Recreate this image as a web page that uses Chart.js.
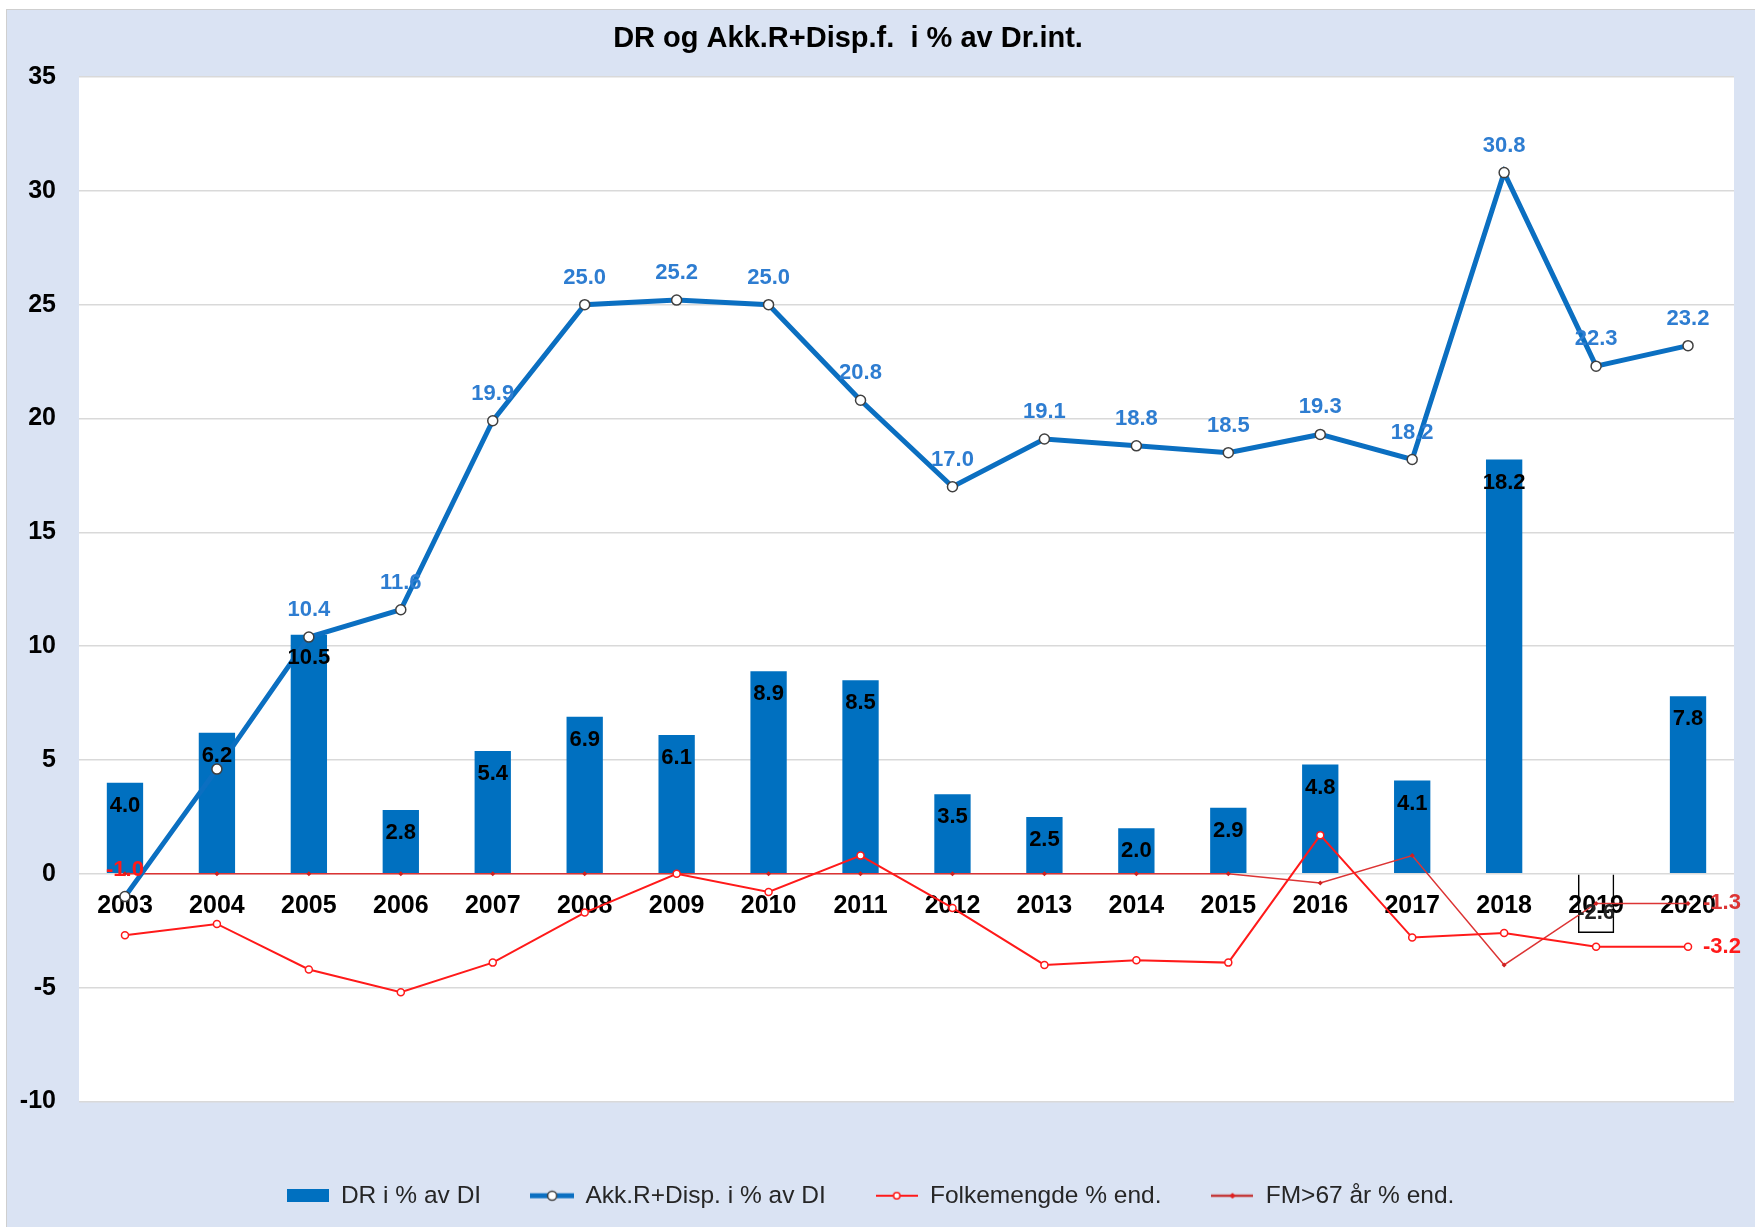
<!DOCTYPE html>
<html>
<head>
<meta charset="utf-8">
<script src="https://cdn.jsdelivr.net/npm/chart.js@4.4.0/dist/chart.umd.min.js"></script>
<style>
html,body{margin:0;padding:0;background:#ffffff;}
#wrap{position:absolute;left:6px;top:9px;width:1749px;height:1218px;background:#DAE3F3;border-top:1px solid #cfcfcf;border-left:1px solid #cfcfcf;}
canvas{display:block;}
</style>
</head>
<body>
<div id="wrap"><canvas id="c" width="1748" height="1217"></canvas></div>
<script>
// ---------- data ----------
const chartTitle = 'DR og Akk.R+Disp.f.  i % av Dr.int.';
const years = ['2003','2004','2005','2006','2007','2008','2009','2010','2011','2012','2013','2014','2015','2016','2017','2018','2019','2020'];
const drValues   = [4.0, 6.2, 10.5, 2.8, 5.4, 6.9, 6.1, 8.9, 8.5, 3.5, 2.5, 2.0, 2.9, 4.8, 4.1, 18.2, -2.6, 7.8];
const akkValues  = [-1.0, 4.6, 10.4, 11.6, 19.9, 25.0, 25.2, 25.0, 20.8, 17.0, 19.1, 18.8, 18.5, 19.3, 18.2, 30.8, 22.3, 23.2];
const folkValues = [-2.7, -2.2, -4.2, -5.2, -3.9, -1.7, 0.0, -0.8, 0.8, -1.5, -4.0, -3.8, -3.9, 1.7, -2.8, -2.6, -3.2, -3.2];
const fm67Values = [0.0, 0.0, 0.0, 0.0, 0.0, 0.0, 0.0, 0.0, 0.0, 0.0, 0.0, 0.0, 0.0, -0.4, 0.8, -4.0, -1.3, -1.3];
const seriesNames = ['DR i % av DI', 'Akk.R+Disp. i % av DI', 'Folkemengde % end.', 'FM>67 år % end.'];
const yMin = -10, yMax = 35, yStep = 5;
const akkLabelSkip = [1];          // label hidden behind bar label in the original
const folkLabelIdx = [17];         // only last point labelled
const fm67LabelIdx = [17];

// ---------- styles ----------
const F = "'Liberation Sans', Arial, sans-serif";
const BLUE = '#0070C0';
const LINEBLUE = '#0B6FC1';
const LBLBLUE = '#2E7DD1';
const RED = '#FF1A1A';
const RED2 = '#DC3434';
const LEGEND_TEXT = '#262626';

function icon(w, h, fn){ const c=document.createElement('canvas'); c.width=w; c.height=h; fn(c.getContext('2d'), w, h); return c; }
const legendIcons = [
  icon(42, 13, (g,w,h)=>{ g.fillStyle=BLUE; g.fillRect(0,0,w,h); }),
  icon(44, 14, (g,w,h)=>{ g.strokeStyle=LINEBLUE; g.lineWidth=5; g.beginPath(); g.moveTo(0,h/2); g.lineTo(w,h/2); g.stroke();
                         g.fillStyle='#fff'; g.strokeStyle='#404040'; g.lineWidth=1.5; g.beginPath(); g.arc(w/2,h/2,4.5,0,Math.PI*2); g.fill(); g.stroke(); }),
  icon(42, 10, (g,w,h)=>{ g.strokeStyle=RED; g.lineWidth=2; g.beginPath(); g.moveTo(0,h/2); g.lineTo(w,h/2); g.stroke();
                         g.fillStyle='#fff'; g.lineWidth=1.5; g.beginPath(); g.arc(w/2,h/2,3.2,0,Math.PI*2); g.fill(); g.stroke(); }),
  icon(42, 10, (g,w,h)=>{ g.strokeStyle='#C43A3A'; g.lineWidth=2.5; g.beginPath(); g.moveTo(0,h/2); g.lineTo(w,h/2); g.stroke();
                         g.fillStyle='#E02020'; g.beginPath(); g.moveTo(w/2,h/2-3); g.lineTo(w/2+3,h/2); g.lineTo(w/2,h/2+3); g.lineTo(w/2-3,h/2); g.closePath(); g.fill(); })
];

const bgPlugin = {
  id: 'bg',
  beforeDraw(chart){
    const {ctx, chartArea:a} = chart;
    ctx.save(); ctx.fillStyle = '#ffffff'; ctx.fillRect(a.left, a.top, a.right-a.left, a.bottom-a.top); ctx.restore();
  },
  afterDraw(chart){
    const ctx = chart.ctx;
    ctx.save();
    ctx.font = 'bold 29px ' + F; ctx.fillStyle = '#000'; ctx.textAlign = 'center'; ctx.textBaseline = 'middle';
    ctx.fillText(chartTitle, 841, 29);
    ctx.restore();
  }
};

const labelPlugin = {
  id: 'vlabels',
  afterDatasetsDraw(chart){
    const ctx = chart.ctx;
    ctx.save();
    ctx.font = 'bold 22px ' + F;
    ctx.textBaseline = 'middle';
    // bars
    chart.getDatasetMeta(0).data.forEach((el, i) => {
      const v = drValues[i];
      ctx.textAlign = 'center';
      ctx.fillStyle = v < 0 ? '#222' : '#000';
      const y = v >= 0 ? el.y + 23 : el.y - 20;
      ctx.fillText(v.toFixed(1), el.x, y);
    });
    // Akk line
    chart.getDatasetMeta(1).data.forEach((el, i) => {
      if (akkLabelSkip.includes(i)) return;
      const v = akkValues[i];
      ctx.textAlign = 'center';
      ctx.fillStyle = v < 0 ? RED : LBLBLUE;
      ctx.fillText(v.toFixed(1), el.x, el.y - 27);
    });
    // Folkemengde / FM>67 end labels
    ctx.textAlign = 'left';
    ctx.fillStyle = RED;
    folkLabelIdx.forEach(i => { const el = chart.getDatasetMeta(2).data[i]; ctx.fillText(folkValues[i].toFixed(1), el.x + 15, el.y); });
    ctx.fillStyle = RED2;
    fm67LabelIdx.forEach(i => { const el = chart.getDatasetMeta(3).data[i]; ctx.fillText(fm67Values[i].toFixed(1), el.x + 15, el.y); });
    ctx.restore();
  }
};

new Chart(document.getElementById('c'), {
  type: 'bar',
  data: {
    labels: years,
    datasets: [
      { type:'bar', label: seriesNames[0], data: drValues,
        backgroundColor: drValues.map(v => v < 0 ? 'rgba(255,255,255,0)' : BLUE),
        borderColor: drValues.map(v => v < 0 ? '#000000' : BLUE),
        borderWidth: drValues.map(v => v < 0 ? 1.5 : 0),
        barPercentage: 0.395, categoryPercentage: 1, order: 4 },
      { type:'line', label: seriesNames[1], data: akkValues, borderColor: LINEBLUE, borderWidth: 5,
        pointRadius: 5, pointBackgroundColor: '#ffffff', pointBorderColor: '#404040', pointBorderWidth: 1.5,
        tension: 0, order: 1 },
      { type:'line', label: seriesNames[2], data: folkValues, borderColor: RED, borderWidth: 2,
        pointRadius: 3.5, pointBackgroundColor: '#ffffff', pointBorderColor: RED, pointBorderWidth: 1.5,
        tension: 0, order: 2 },
      { type:'line', label: seriesNames[3], data: fm67Values, borderColor: RED2, borderWidth: 1.5,
        pointStyle: 'rectRot', pointRadius: 2.5, pointBackgroundColor: '#D02020', pointBorderWidth: 0,
        tension: 0, order: 3 }
    ]
  },
  options: {
    responsive: false,
    animation: false,
    events: [],
    layout: { padding: { top: 67, right: 21, bottom: 9, left: 0 } },
    scales: {
      x: {
        position: { y: 0 },
        offset: true,
        grid: { display: false, drawTicks: false },
        border: { display: false },
        ticks: { padding: 17, color: '#000', autoSkip: false, maxRotation: 0,
                 font: { family: F, size: 25, weight: 'bold' } }
      },
      y: {
        min: yMin, max: yMax,
        ticks: { stepSize: yStep, padding: 23, color: '#000', font: { family: F, size: 25, weight: 'bold' } },
        grid: { color: '#D9D9D9', lineWidth: 1.5, drawTicks: false },
        border: { display: false },
        afterFit(s){ s.width = 72; }
      }
    },
    plugins: {
      title: { display: false },
      tooltip: { enabled: false },
      legend: {
        position: 'bottom',
        align: 'center',
        title: { display: true, text: '', padding: 0, font: { size: 16, lineHeight: 2 } },
        labels: {
          usePointStyle: true,
          pointStyleWidth: 42,
          padding: 50,
          color: LEGEND_TEXT,
          font: { family: F, size: 24.5 },
          generateLabels: (chart) => chart.data.datasets.map((ds, i) => ({
            text: ds.label, pointStyle: legendIcons[i], fillStyle: 'transparent', fontColor: LEGEND_TEXT,
            strokeStyle: 'transparent', lineWidth: 0, hidden: false, datasetIndex: i
          }))
        }
      }
    }
  },
  plugins: [bgPlugin, labelPlugin]
});
</script>
</body>
</html>
